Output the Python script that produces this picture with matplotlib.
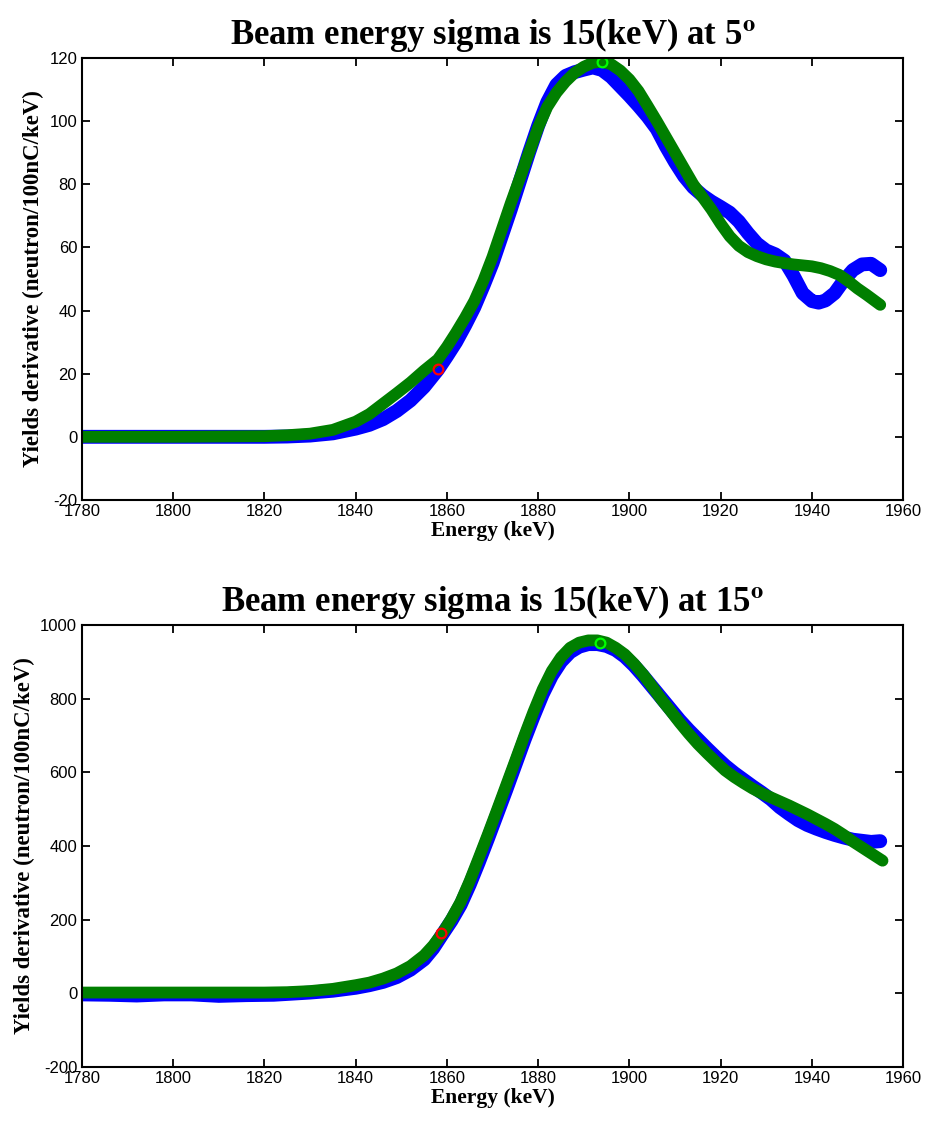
import numpy as np
import matplotlib
matplotlib.use("Agg")
import matplotlib.pyplot as plt
import matplotlib.ticker as ticker

plt.rcParams['font.family'] = ['Liberation Sans', 'DejaVu Sans']
plt.rcParams['mathtext.fontset'] = 'stix'
plt.rcParams['axes.unicode_minus'] = False

# верхний график, 5 градусов
top_blue_x = [1780, 1790, 1800, 1810, 1820, 1825, 1830, 1835, 1840, 1843, 1846, 1849, 1852, 1855,
              1858, 1860, 1862, 1864, 1866, 1868, 1870, 1872, 1874, 1876, 1878, 1880, 1882, 1884,
              1886, 1888, 1890, 1892, 1894, 1896, 1898, 1900, 1902, 1904, 1906, 1908, 1910, 1912,
              1914, 1916, 1918, 1920, 1922, 1924, 1926, 1928, 1930, 1932, 1934, 1936, 1938, 1940,
              1941.5, 1943, 1945, 1947, 1949, 1951, 1953, 1955]
top_blue_y = [0, 0, 0, 0, 0, 0.1, 0.4, 1.1, 2.6, 3.8, 5.6, 8.2, 11.5, 15.8,
              21.2, 25.5, 30, 35.3, 41, 47.8, 55, 63.5, 72, 81, 90, 98.5, 106, 111.5,
              114.3, 115.5, 116.3, 117, 116.2, 114, 111, 108, 104.8, 101.4, 97.5, 92, 87, 82.5,
              79, 76.5, 74.5, 72.8, 71, 68.2, 64.5, 61.2, 59, 57.8, 55.8, 51, 45.5, 43,
              42.5, 43.2, 45.5, 49.5, 52.8, 54.6, 54.8, 52.8]
top_green_x = [1780, 1790, 1800, 1810, 1820, 1825, 1830, 1835, 1840, 1843, 1846, 1849, 1852, 1855,
               1858, 1860, 1862, 1864, 1866, 1868, 1870, 1872, 1874, 1876, 1878, 1880, 1882, 1884,
               1886, 1888, 1890, 1892, 1894, 1896, 1898, 1900, 1902, 1904, 1906, 1908, 1910, 1912,
               1914, 1916, 1918, 1920, 1922, 1924, 1926, 1928, 1930, 1932, 1934, 1936, 1938, 1940,
               1942, 1944, 1946, 1948, 1950, 1952, 1955]
top_green_y = [0, 0, 0, 0.1, 0.2, 0.5, 1, 2.2, 4.8, 7.2, 10.5, 13.8, 17.2, 21,
               24.5, 28.5, 33, 37.8, 43, 49.5, 57, 65.5, 74, 82, 90, 98, 104.5, 109,
               112.5, 115.3, 117.2, 118.5, 118.8, 118, 116, 113.2, 109.5, 104.8, 100, 95, 90, 85,
               80, 76, 72, 67.5, 63.5, 60.5, 58.5, 57.2, 56.2, 55.5, 55, 54.6, 54.3, 54,
               53.4, 52.5, 51.3, 49.3, 47, 45, 41.8]
top_red_pt = (1858, 21.5)
top_lime_pt = (1894, 118.8)

# нижний график, 15 градусов
bot_blue_x = [1780, 1786, 1792, 1798, 1804, 1810, 1816, 1822, 1826, 1830, 1835, 1840, 1843, 1846,
              1849, 1852, 1855, 1857, 1859, 1861, 1863, 1865, 1867, 1869, 1871, 1873, 1875, 1877,
              1879, 1881, 1883, 1885, 1887, 1889, 1891, 1893, 1895, 1897, 1899, 1901, 1903, 1905,
              1907, 1909, 1911, 1913, 1915, 1917, 1919, 1921, 1923, 1925, 1927, 1929, 1931, 1933,
              1935, 1937, 1939, 1941, 1943, 1945, 1947, 1949, 1951, 1953, 1955]
bot_blue_y = [-3, -4, -6, -3, -3, -7, -5, -4, -1, 2, 7, 15, 22, 31,
              44, 64, 92, 122, 160, 197, 240, 295, 356, 420, 486, 552, 620, 688,
              752, 812, 862, 900, 926, 941, 948, 948, 943, 932, 914, 890, 862, 832,
              802, 772, 742, 715, 690, 665, 641, 618, 598, 580, 562, 545, 527, 505,
              487, 470, 457, 447, 438, 430, 423, 417, 414, 411, 413]
bot_green_x = [1780, 1800, 1820, 1825, 1830, 1835, 1840, 1843, 1846, 1849, 1852, 1855, 1857, 1859,
               1861, 1863, 1865, 1867, 1869, 1871, 1873, 1875, 1877, 1879, 1881, 1883, 1885, 1887,
               1889, 1891, 1893, 1895, 1897, 1899, 1901, 1903, 1905, 1907, 1909, 1911, 1913, 1915,
               1917, 1919, 1921, 1923, 1925, 1927, 1929, 1931, 1933, 1935, 1937, 1939, 1941, 1943,
               1945, 1947, 1949, 1951, 1953, 1955.5]
bot_green_y = [2, 2, 2, 3, 6, 12, 22, 29, 40, 54, 74, 103, 130, 163,
               203, 248, 305, 368, 432, 498, 565, 632, 700, 765, 825, 875, 912, 938,
               952, 958, 958, 952, 938, 920, 895, 866, 833, 798, 767, 735, 705, 677,
               652, 628, 605, 587, 571, 556, 543, 532, 521, 510, 498, 486, 473, 460,
               446, 430, 412, 396, 380, 360]
bot_red_pt = (1858.8, 163)
bot_lime_pt = (1893.6, 951)

titles = ['Beam energy sigma is 15(keV) at 5$^{\\mathbf{o}}$',
          'Beam energy sigma is 15(keV) at 15$^{\\mathbf{o}}$']
ylims = [(-20, 120), (-200, 1000)]
ysteps = [20, 200]

fig = plt.figure(figsize=(9.28, 11.23), dpi=100)
ax1 = fig.add_axes([0.0884, 0.5548, 0.8847, 0.3936])
ax2 = fig.add_axes([0.0884, 0.0499, 0.8847, 0.3936])

data = [(ax1, top_blue_x, top_blue_y, top_green_x, top_green_y, top_red_pt, top_lime_pt),
        (ax2, bot_blue_x, bot_blue_y, bot_green_x, bot_green_y, bot_red_pt, bot_lime_pt)]

for i, (ax, bx, by, gx, gy, rp, lp) in enumerate(data):
    ax.plot(bx, by, color='#0000ff', lw=10, solid_capstyle='round', solid_joinstyle='round')
    ax.plot(gx, gy, color='#007f00', lw=8.5, solid_capstyle='round', solid_joinstyle='round')
    ax.plot(rp[0], rp[1], 'o', mfc='none', mec='#ff0000', ms=7, mew=1.6)
    ax.plot(lp[0], lp[1], 'o', mfc='none', mec='#00ff00', ms=7, mew=1.6)

    ax.set_xlim(1780, 1960)
    ax.set_ylim(*ylims[i])
    ax.xaxis.set_major_locator(ticker.MultipleLocator(20))
    ax.yaxis.set_major_locator(ticker.MultipleLocator(ysteps[i]))
    ax.tick_params(direction='in', top=True, right=True, length=6, width=1.3, labelsize=12)
    ax.tick_params(axis='x', pad=3)
    for sp in ax.spines.values():
        sp.set_linewidth(1.5)

    ax.set_title(titles[i], fontsize=25, fontweight='bold', family='Liberation Serif', pad=10)
    ax.set_xlabel('Energy (keV)', fontsize=15.5, fontweight='bold', family='Liberation Serif', labelpad=1)
    ax.set_ylabel('Yields derivative (neutron/100nC/keV)', fontsize=16.5, fontweight='bold',
                  family='Liberation Serif', labelpad=4)

fig.savefig('out.png', dpi=100)
